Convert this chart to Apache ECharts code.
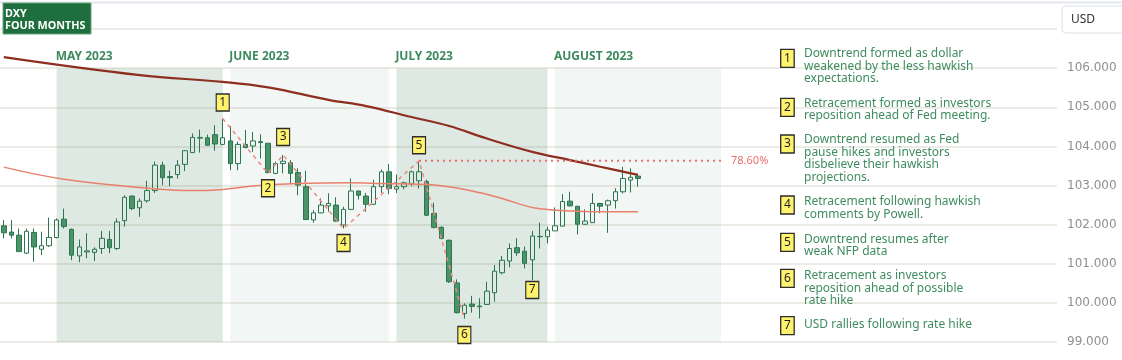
<!DOCTYPE html>
<html><head><meta charset="utf-8">
<script src="https://cdn.jsdelivr.net/npm/echarts@6/dist/echarts.min.js"></script>
<style>html,body{margin:0;padding:0;background:#fff}#c{width:1122px;height:360px}</style>
</head><body><div id="c"></div>
<script>
// ---------- DATA ----------
const dates = ['2023-04-20','2023-04-21','2023-04-24','2023-04-25','2023-04-26','2023-04-27','2023-04-28',
'2023-05-01','2023-05-02','2023-05-03','2023-05-04','2023-05-05','2023-05-08','2023-05-09','2023-05-10','2023-05-11','2023-05-12','2023-05-15','2023-05-16','2023-05-17','2023-05-18','2023-05-19','2023-05-22','2023-05-23','2023-05-24','2023-05-25','2023-05-26','2023-05-29','2023-05-30','2023-05-31',
'2023-06-01','2023-06-02','2023-06-05','2023-06-06','2023-06-07','2023-06-08','2023-06-09','2023-06-12','2023-06-13','2023-06-14','2023-06-15','2023-06-16','2023-06-19','2023-06-20','2023-06-21','2023-06-22','2023-06-23','2023-06-26','2023-06-27','2023-06-28','2023-06-29','2023-06-30',
'2023-07-03','2023-07-04','2023-07-05','2023-07-06','2023-07-07','2023-07-10','2023-07-11','2023-07-12','2023-07-13','2023-07-14','2023-07-17','2023-07-18','2023-07-19','2023-07-20','2023-07-21','2023-07-24','2023-07-25','2023-07-26','2023-07-27','2023-07-28','2023-07-31',
'2023-08-01','2023-08-02','2023-08-03','2023-08-04','2023-08-07','2023-08-08','2023-08-09','2023-08-10','2023-08-11','2023-08-14','2023-08-15','2023-08-16'];

const opens = [101.97,101.81,101.73,101.27,101.80,101.37,101.46,
101.67,102.14,101.88,101.20,101.30,101.29,101.39,101.62,101.39,102.10,102.73,102.43,102.61,102.87,103.52,103.23,103.28,103.54,103.84,104.21,104.22,104.30,104.05,
104.14,103.56,104.05,104.01,104.12,104.08,103.31,103.56,103.58,103.33,102.97,102.12,102.30,102.48,102.50,101.99,102.39,102.86,102.73,102.52,102.97,103.35,
102.91,102.97,103.04,103.12,103.10,102.29,101.93,101.60,100.51,99.73,99.97,99.90,99.96,100.26,100.77,101.07,101.41,101.32,101.10,101.70,101.69,
101.84,101.96,102.60,102.47,102.01,102.05,102.54,102.50,102.61,102.84,103.14,103.24];

const closes = [101.79,101.73,101.31,101.83,101.43,101.46,101.67,
102.12,101.95,101.22,101.43,101.33,101.37,101.65,101.41,102.07,102.70,102.41,102.60,102.87,103.52,103.20,103.20,103.52,103.89,104.23,104.23,104.03,104.06,104.22,
103.56,104.05,103.97,104.14,104.10,103.33,103.56,103.62,103.31,103.01,102.13,102.30,102.50,102.54,102.09,102.39,102.86,102.75,102.52,102.97,103.35,102.92,
102.97,103.07,103.35,103.35,102.24,101.93,101.65,100.54,99.75,99.94,99.91,99.92,100.30,100.81,101.09,101.39,101.28,101.01,101.71,101.69,101.86,
101.97,102.59,102.48,102.01,102.09,102.54,102.47,102.61,102.84,103.18,103.21,103.18];

const lows = [101.65,101.65,101.31,101.25,101.05,101.22,101.43,
101.65,101.90,101.09,101.04,101.14,101.07,101.25,101.27,101.35,101.95,102.37,102.20,102.56,102.81,103.01,102.98,103.18,103.37,103.84,103.84,104.01,103.89,104.03,
103.39,103.39,103.95,103.86,103.69,103.31,103.29,103.31,103.05,102.75,102.12,102.05,102.29,102.33,102.07,101.90,102.37,102.64,102.33,102.50,102.81,102.78,
102.81,102.90,102.98,102.92,102.22,101.90,101.62,100.51,99.73,99.60,99.75,99.60,99.95,100.03,100.73,100.91,101.20,100.88,100.58,101.39,101.52,
101.84,101.96,102.46,101.75,101.99,102.05,102.29,101.79,102.41,102.80,102.82,102.97];

const highs = [102.12,102.12,101.90,101.90,101.90,101.82,102.18,
102.16,102.41,101.90,101.62,101.78,101.42,101.84,101.84,102.16,102.75,102.75,102.67,103.12,103.61,103.61,103.38,103.65,103.90,104.33,104.43,104.30,104.54,104.71,
104.52,104.12,104.42,104.37,104.31,104.08,103.61,103.78,103.65,103.44,103.38,102.37,102.67,102.80,102.70,102.46,103.18,102.86,102.81,103.15,103.41,103.55,
103.28,103.10,103.38,103.63,103.15,102.56,101.96,101.62,100.60,99.99,100.18,100.12,100.54,100.97,101.20,101.52,101.65,101.44,101.84,102.05,101.95,
102.44,102.78,102.84,102.47,102.39,102.80,102.56,102.64,102.93,103.48,103.44,103.27];

// long moving average (dark line), read at selected dates
const slowDates  = ['2023-04-20','2023-05-16','2023-05-31','2023-06-08','2023-06-20','2023-06-27','2023-07-05','2023-07-12','2023-07-19','2023-07-27','2023-08-03','2023-08-09','2023-08-16'];
const slowValues = [106.28,105.82,105.65,105.51,105.19,105.03,104.75,104.52,104.20,103.86,103.65,103.48,103.27];
// shorter moving average (light line)
const fastDates  = ['2023-04-20','2023-05-02','2023-05-17','2023-05-25','2023-05-31','2023-06-06','2023-06-14','2023-06-23','2023-06-29','2023-07-10','2023-07-17','2023-07-21','2023-07-27','2023-08-03','2023-08-09','2023-08-16'];
const fastValues = [103.47,103.16,102.93,102.87,102.90,102.99,103.05,103.07,103.05,103.01,102.86,102.67,102.44,102.35,102.33,102.33];

// swing zig-zag
const swingDates  = ['2023-05-31','2023-06-08','2023-06-12','2023-06-22','2023-07-06','2023-07-14'];
const swingValues = [104.71,103.31,103.78,101.90,103.63,99.60];

// 78.6% level
const fibLevel = 103.63;
const fibDates = ['2023-07-06','2023-08-31'];
const fibText = '78.60%';

// numbered markers
const markerLabels = ['1','2','3','4','5','6','7'];
const markerDates  = ['2023-05-31','2023-06-08','2023-06-12','2023-06-22','2023-07-06','2023-07-14','2023-07-27'];
const markerValues = [105.12,102.93,104.24,101.53,104.03,99.18,100.33];

// months
const monthNames = ['MAY 2023','JUNE 2023','JULY 2023','AUGUST 2023'];
const monthStart = ['2023-05-01','2023-06-01','2023-07-03','2023-08-01'];
const monthEnd   = ['2023-05-31','2023-06-30','2023-07-31','2023-08-31'];

const yMin = 99, yMax = 107, yStep = 1;

const notes = [
 'Downtrend formed as dollar\nweakened by the less hawkish\nexpectations.',
 'Retracement formed as investors\nreposition ahead of Fed meeting.',
 'Downtrend resumed as Fed\npause hikes and investors\ndisbelieve their hawkish\nprojections.',
 'Retracement following hawkish\ncomments by Powell.',
 'Downtrend resumes after\nweak NFP data',
 'Retracement as investors\nreposition ahead of possible\nrate hike',
 'USD rallies following rate hike'
];

// ---------- CHART ----------
const axisDates = dates.slice();
(function(){ let d = new Date(Date.UTC(2023,7,17));
  while (axisDates.length < 140) { const w = d.getUTCDay();
    if (w !== 0 && w !== 6) axisDates.push(d.toISOString().slice(0,10));
    d.setUTCDate(d.getUTCDate()+1); } })();

const FONT = 'Noto Sans';
const chart = echarts.init(document.getElementById('c'));
const candleData = dates.map((d,i)=>[opens[i], closes[i], lows[i], highs[i]]);

chart.setOption({
  animation:false,
  grid:{left:0,right:65,top:29,bottom:18},
  xAxis:{type:'category', data:axisDates, boundaryGap:true,
    axisLine:{show:false}, axisTick:{show:false}, axisLabel:{show:false}, splitLine:{show:false}},
  yAxis:{type:'value', position:'right', min:yMin, max:yMax, interval:yStep,
    axisLine:{show:false}, axisTick:{show:false},
    axisLabel:{formatter:v=> v===yMax ? '' : v.toFixed(3), color:'#8f8f8f', fontFamily:'DejaVu Sans', fontSize:12, margin:10},
    splitLine:{lineStyle:{color:'#e7e4dc', width:1.5}}},
  series:[
    {type:'line', data:[], z:1, silent:true,
      markArea:{silent:true, data: monthStart.map((s,i)=>[
        {xAxis:s, yAxis:106, itemStyle:{color: i%2 ? 'rgba(30,110,60,0.06)' : 'rgba(30,110,60,0.15)'}},
        {xAxis:monthEnd[i], yAxis:yMin}])}},
    {type:'candlestick', z:3, data:candleData, barWidth:5,
      itemStyle:{color:'rgba(255,255,255,0)', color0:'#4a9468', borderColor:'#2d7550', borderColor0:'#2d7550', borderWidth:1}},
    {type:'line', z:4, data:fastDates.map((d,i)=>[d, fastValues[i]]), smooth:0.4, symbol:'none', silent:true,
      lineStyle:{color:'#e8806c', width:1.5}},
    {type:'line', z:5, data:slowDates.map((d,i)=>[d, slowValues[i]]), smooth:0.4, symbol:'none', silent:true,
      lineStyle:{color:'#8e2e1f', width:2.2}},
    {type:'line', z:5, data:swingDates.map((d,i)=>[d, swingValues[i]]), symbol:'none', silent:true,
      lineStyle:{color:'#ee8a84', width:1.5, type:[4,4]}},
    {type:'line', z:5, data:fibDates.map(d=>[d, fibLevel]), symbol:'none', silent:true,
      lineStyle:{color:'#eb6f6f', width:2, type:[2,4]},
      endLabel:{show:true, formatter:fibText, color:'#ee6e6e', fontSize:11, fontFamily:FONT, distance:10}},
    {type:'scatter', z:6, data:markerDates.map((d,i)=>[d, markerValues[i], markerLabels[i]]),
      symbol:'rect', symbolSize:[13,17], silent:true,
      itemStyle:{color:'#fff36e', borderColor:'#2b2b2b', borderWidth:1.3, opacity:1},
      label:{show:true, position:'inside', formatter:p=>p.data[2], color:'#1e1e1e', fontSize:12, fontFamily:FONT}}
  ]
});

// ---------- GRAPHICS ----------
const g = [];
g.push({type:'line', shape:{x1:0,y1:2.5,x2:1122,y2:2.5}, style:{stroke:'#e3e7ee', lineWidth:2}, z:10});
g.push({type:'rect', shape:{x:3,y:3,width:88,height:31}, style:{fill:'#1f6f3e', stroke:'#6aa37e', lineWidth:1}, z:10});
g.push({type:'text', x:5, y:8, style:{text:'DXY\nFOUR MONTHS', fill:'#fff', font:'bold 10.8px "Noto Sans"', lineHeight:12, textVerticalAlign:'top'}, z:11});
g.push({type:'rect', shape:{x:1062,y:6,width:64,height:27,r:4}, style:{fill:'#fff', stroke:'#dde0e6', lineWidth:1}, z:10});
g.push({type:'text', x:1071, y:20, style:{text:'USD', fill:'#333', font:'12px "Noto Sans"', textVerticalAlign:'middle'}, z:11});

monthNames.forEach((m,i)=>{
  const px = chart.convertToPixel({gridIndex:0}, [monthStart[i], yMin]);
  g.push({type:'text', x:px[0]-1, y:57, style:{text:m, fill:'#3d8a5e', font:'bold 12px "Noto Sans"', textVerticalAlign:'middle'}, z:11});
});

const noteMarkerTop = [49.3, 98.3, 135, 196, 233.3, 269.3, 316.7];
const noteTextCenter = [54, 103.3, 140, 201.7, 239.3, 276, 325];
notes.forEach((t,i)=>{
  g.push({type:'rect', shape:{x:780.7,y:noteMarkerTop[i],width:13.5,height:18}, style:{fill:'#fff36e', stroke:'#2b2b2b', lineWidth:1.3}, z:11});
  g.push({type:'text', x:787.5, y:noteMarkerTop[i]+9, style:{text:markerLabels[i], fill:'#1e1e1e', font:'12px "Noto Sans"', textAlign:'center', textVerticalAlign:'middle'}, z:12});
  g.push({type:'text', x:804, y:noteTextCenter[i]-6.2, style:{text:t, fill:'#3f8c5f', font:'12px "Noto Sans"', lineHeight:12.4, textVerticalAlign:'top'}, z:11});
});
chart.setOption({graphic:g});
</script></body></html>
